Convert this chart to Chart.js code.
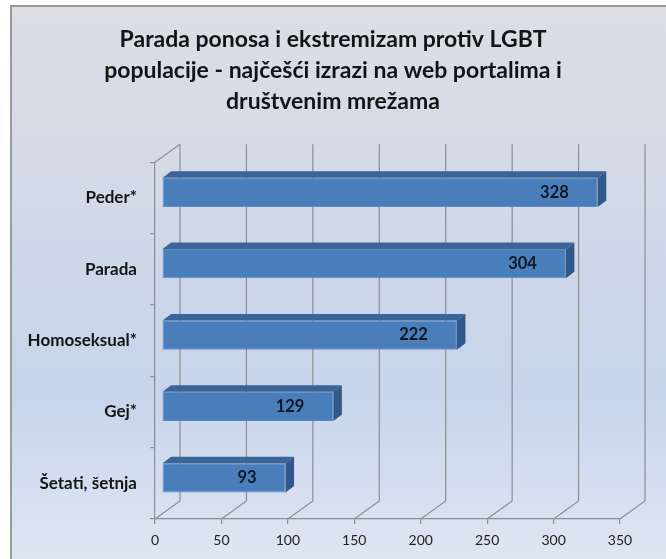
<!DOCTYPE html>
<html>
<head>
<meta charset="utf-8">
<script src="https://cdn.jsdelivr.net/npm/chart.js@4"></script>
<style>
  html, body { margin: 0; padding: 0; background: #fff; }
  canvas { display: block; }
</style>
</head>
<body>
<canvas id="myChart" width="666" height="559"></canvas>
<script>
const categories = ["Peder*", "Parada", "Homoseksual*", "Gej*", "Šetati, šetnja"]
const counts = [328, 304, 222, 129, 93]
const axisMin = 0
const axisMax = 350
const axisStep = 50
const titleLines = ["Parada ponosa i ekstremizam protiv LGBT", "populacije - najčešći izrazi na web portalima i", "društvenim mrežama"]

// 3d look: back wall offset and bar depth
const wall = { dx: 25, dy: -18 }
const depth = { dx: 8.5, dy: 6.5, shiftX: 7, shiftY: -5.5 }

const cube = {
  id: "cube",
  beforeDraw(chart) {
    const { ctx, width, height } = chart
    ctx.save()
    ctx.fillStyle = "#ffffff"
    ctx.fillRect(0, 0, width, height)
    const g = ctx.createLinearGradient(0, 5, 0, height)
    g.addColorStop(0, "#dcdee3")
    g.addColorStop(0.35, "#d2d9e7")
    g.addColorStop(0.7, "#c7d4eb")
    g.addColorStop(1, "#dfe6f2")
    ctx.fillStyle = g
    ctx.fillRect(10, 5, width - 10, height - 5)
    ctx.strokeStyle = "#9a9a9a"
    ctx.lineWidth = 2
    ctx.beginPath()
    ctx.moveTo(11, height)
    ctx.lineTo(11, 6)
    ctx.lineTo(width, 6)
    ctx.stroke()
    ctx.restore()
  },
  beforeDatasetsDraw(chart) {
    const { ctx, chartArea: a, scales: { x } } = chart
    ctx.save()
    ctx.strokeStyle = "#8e8e8e"
    ctx.lineWidth = 1.2
    ctx.beginPath()
    x.ticks.forEach(t => {
      const px = x.getPixelForValue(t.value)
      ctx.moveTo(px + wall.dx, a.top + wall.dy)
      ctx.lineTo(px + wall.dx, a.bottom + wall.dy)
      ctx.lineTo(px, a.bottom)
    })
    ctx.moveTo(a.left, a.top)
    ctx.lineTo(a.left + wall.dx, a.top + wall.dy)
    ctx.stroke()
    ctx.restore()
    // bars sit in the middle of the depth
    ctx.save()
    ctx.translate(depth.shiftX, depth.shiftY)
  },
  afterDatasetsDraw(chart) {
    const { ctx } = chart
    const meta = chart.getDatasetMeta(0)
    meta.data.forEach((el, i) => {
      const { x, y, base, height } = el.getProps(["x", "y", "base", "height"], true)
      const top = y - height / 2
      const bot = y + height / 2
      ctx.fillStyle = "#3b6597"
      ctx.beginPath()
      ctx.moveTo(base, top)
      ctx.lineTo(base + depth.dx, top - depth.dy)
      ctx.lineTo(x + depth.dx, top - depth.dy)
      ctx.lineTo(x, top)
      ctx.closePath()
      ctx.fill()
      ctx.fillStyle = "#30598a"
      ctx.beginPath()
      ctx.moveTo(x, top)
      ctx.lineTo(x + depth.dx, top - depth.dy)
      ctx.lineTo(x + depth.dx, bot - depth.dy)
      ctx.lineTo(x, bot)
      ctx.closePath()
      ctx.fill()

      ctx.fillStyle = "#0e1726"
      ctx.font = "bold 16.5px Lato"
      ctx.textAlign = "right"
      ctx.textBaseline = "middle"
      ctx.fillText(String(counts[i]), x - 29, y)
    })
    ctx.restore()
  }
}

const chart = new Chart("myChart", {
  type: "bar",
  data: {
    labels: categories,
    datasets: [{
      data: counts,
      backgroundColor: "#4a7ebb",
      borderColor: "#5c8cc6",
      borderWidth: 1,
      borderSkipped: false,
      categoryPercentage: 1,
      barPercentage: 0.41
    }]
  },
  plugins: [cube],
  options: {
    indexAxis: "y",
    responsive: false,
    animation: false,
    layout: { padding: 0 },
    plugins: {
      legend: { display: false },
      tooltip: { enabled: false },
      title: {
        display: true,
        text: titleLines,
        color: "#141414",
        font: { family: "Lato", size: 23, weight: "bold", lineHeight: 1.35 },
        padding: { top: 24, bottom: 45 }
      }
    },
    scales: {
      x: {
        min: axisMin,
        max: axisMax,
        afterFit(scale) { scale.height = 40; scale.paddingRight = 46 },
        ticks: { stepSize: axisStep, color: "#222", padding: 8, font: { family: "Lato", size: 14 } },
        grid: { drawOnChartArea: false, drawTicks: true, tickLength: 5, color: "#8e8e8e", lineWidth: 1.2 },
        border: { display: true, color: "#8e8e8e", width: 1.2 }
      },
      y: {
        afterFit(scale) { scale.width = 155 },
        ticks: { color: "#141414", padding: 13, font: { family: "Lato", size: 17, weight: "bold" } },
        grid: { offset: true, drawOnChartArea: false, drawTicks: true, tickLength: 5, color: "#8e8e8e", lineWidth: 1.2 },
        border: { display: true, color: "#8e8e8e", width: 1.2 }
      }
    }
  }
})
</script>
</body>
</html>
